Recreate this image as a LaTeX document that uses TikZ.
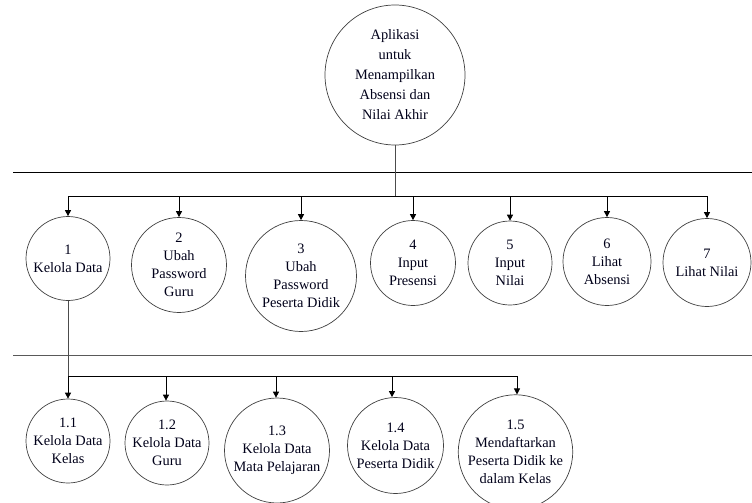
\documentclass[tikz,border=0pt]{standalone}
\usepackage{fontspec}
\setmainfont{Liberation Serif}
\usetikzlibrary{arrows.meta}
\begin{document}
\begin{tikzpicture}[x=1pt,y=-1pt,
  proc/.style={draw=black!75,line width=0.7pt,circle,inner sep=0pt,align=center,
    font=\fontsize{14.4}{18}\selectfont,text=black!90!blue},
  conn/.style={draw=black,line width=0.8pt},
  arr/.style={conn,-{Triangle[length=6pt,width=6pt]}},
  sep/.style={line width=0.8pt}]
\useasboundingbox (0,0) rectangle (752,503);
% separators
\coordinate (s1a) at (13,172); \coordinate (s1b) at (752,172);
\coordinate (s2a) at (13,355); \coordinate (s2b) at (752,355);
\draw[sep,black] (s1a) -- (s1b);
\draw[sep,black!65] (s2a) -- (s2b);
% top
\node[proc,minimum size=140pt,font=\fontsize{14.4}{20}\selectfont] (top) at (395,75)
  {Aplikasi\\untuk\\Menampilkan\\Absensi dan\\Nilai Akhir};
% level 1
\node[proc,minimum size=84pt] (n1) at (68,258.5) {1\\Kelola Data};
\node[proc,minimum size=95pt] (n2) at (179,265) {2\\Ubah\\Password\\Guru};
\node[proc,minimum size=111pt] (n3) at (301,276) {3\\Ubah\\Password\\Peserta Didik};
\node[proc,minimum size=85pt] (n4) at (413,263) {4\\Input\\Presensi};
\node[proc,minimum size=84pt] (n5) at (510,263) {5\\Input\\Nilai};
\node[proc,minimum size=88pt] (n6) at (607,261.5) {6\\Lihat\\Absensi};
\node[proc,minimum size=88pt] (n7) at (707,262.5) {7\\Lihat Nilai};
% level 2
\node[proc,minimum size=84pt] (m1) at (68,441) {1.1\\Kelola Data\\Kelas};
\node[proc,minimum size=84pt] (m2) at (167,443) {1.2\\Kelola Data\\Guru};
\node[proc,minimum size=105pt] (m3) at (277,450.5) {1.3\\Kelola Data\\Mata Pelajaran};
\node[proc,minimum size=96pt] (m4) at (395.5,445.5) {1.4\\Kelola Data\\Peserta Didik};
\node[proc,minimum size=111pt] (m5) at (515.5,452) {1.5\\Mendaftarkan\\Peserta Didik ke\\dalam Kelas};
% bus 1
\coordinate (b1L) at (68,196); \coordinate (b1R) at (707,196);
\draw[conn,black!70,line width=1pt] (top.south) -- (top.south |- b1L);
\draw[conn] (b1L) -- (b1R);
\foreach \n in {n1,n2,n3,n4,n5,n6,n7}
  \draw[arr] (\n.north |- b1L) -- (\n.north);
% bus 2
\coordinate (b2L) at (68,376); \coordinate (b2R) at (517,376);
\draw[conn,black!70,line width=1pt] (n1.south) -- (n1.south |- b2L);
\draw[conn] (b2L) -- (b2R);
\foreach \n/\x in {m1/68,m2/166,m3/276,m4/392,m5/517}
  \draw[arr] (\x,376) -- (\x,0 |- \n.north);
\end{tikzpicture}
\end{document}
